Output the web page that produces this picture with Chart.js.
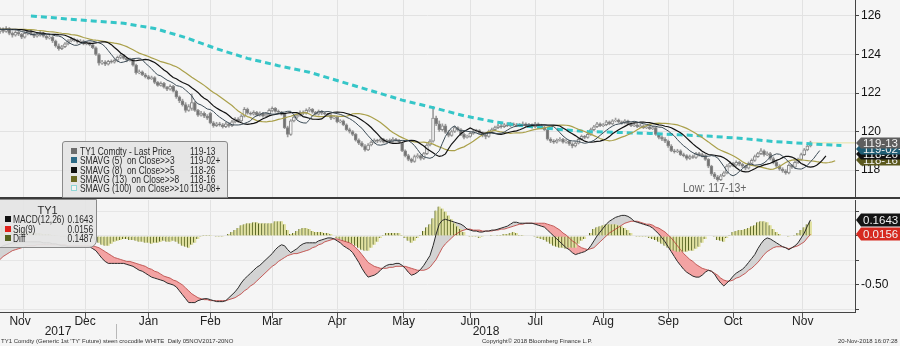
<!DOCTYPE html>
<html>
<head>
<meta charset="utf-8">
<script src="https://cdn.jsdelivr.net/npm/chart.js"></script>
<style>
  html, body { margin: 0; padding: 0; background: #f5f5f5; }
  #wrap { position: relative; width: 900px; height: 346px; overflow: hidden; background: #f5f5f5;
          font-family: "Liberation Sans Narrow", "Liberation Sans", Arial, sans-serif; color: #222; }
  canvas { position: absolute; left: 0; }
  #priceChart { top: 0; }
  #macdChart { top: 199px; }
  .sep { position: absolute; left: 0; top: 197px; width: 900px; height: 2px; background: #3a3a3a; }
  .legend { position: absolute; background: rgba(228,228,228,0.93); border: 1px solid #8a8a8a; color: #2a2a2a; }
  #priceLegend { left: 62px; top: 141px; width: 164px; height: 55px; border-radius: 3px 3px 0 0; }
  #macdLegend { left: -2px; top: 199px; width: 97px; height: 47px; border-radius: 0 0 8px 0; }
  .row { position: absolute; left: 0; width: 100%; height: 10px; line-height: 10px; font-size: 11.5px; white-space: nowrap; }
  .row i { position: absolute; top: 2px; width: 6px; height: 6px; }
  .name, .val { display: inline-block; transform: scaleX(0.73); transform-origin: 0 50%; }
  #priceLegend .row i { left: 8px; }
  #priceLegend .name { position: absolute; left: 17px; }
  #priceLegend .val { position: absolute; left: 127px; }
  #macdLegend .row i { left: 6px; }
  #macdLegend .name { position: absolute; left: 14px; }
  #macdLegend .val { position: absolute; right: 3px; transform-origin: 100% 50%; }
  .title { position: absolute; top: 4px; left: 0; width: 97px; text-align: center; font-size: 11px; line-height: 12px; }
  .low { position: absolute; left: 683px; top: 181px; font-size: 12px; color: #666; white-space: nowrap;
         transform: scaleX(0.88); transform-origin: 0 50%; }
  .year { position: absolute; top: 325px; width: 50px; text-align: center; font-size: 12px; line-height: 13px; }
  .ysep { position: absolute; left: 116px; top: 324px; width: 1px; height: 15px; background: #b8b8b8; }
  .foot { position: absolute; top: 337px; font-size: 6px; line-height: 8px; color: #333; white-space: nowrap;
          font-family: "Liberation Sans", Arial, sans-serif; }
</style>
</head>
<body>
<div id="wrap">
  <canvas id="priceChart" width="900" height="197"></canvas>
  <div class="sep"></div>
  <canvas id="macdChart" width="900" height="147"></canvas>

  <div class="legend" id="priceLegend">
    <div class="row" style="top:4px"><i style="background:#6d6d6d"></i><span class="name">TY1 Comdty - Last Price</span><span class="val">119-13</span></div>
    <div class="row" style="top:13.3px"><i style="background:#2c6a86"></i><span class="name">SMAVG (5)&nbsp; on Close&gt;&gt;3</span><span class="val">119-02+</span></div>
    <div class="row" style="top:22.6px"><i style="background:#111"></i><span class="name">SMAVG (8)&nbsp; on Close&gt;&gt;5</span><span class="val">118-26</span></div>
    <div class="row" style="top:31.9px"><i style="background:#6b6a24"></i><span class="name">SMAVG (13)&nbsp; on Close&gt;&gt;8</span><span class="val">118-16</span></div>
    <div class="row" style="top:41.2px"><i style="background:#f4f4f4;border:1px solid #8fd6d6;width:4px;height:4px"></i><span class="name">SMAVG (100)&nbsp; on Close&gt;&gt;10</span><span class="val">119-08+</span></div>
  </div>

  <div class="legend" id="macdLegend">
    <div class="title">TY1</div>
    <div class="row" style="top:14px"><i style="background:#111"></i><span class="name">MACD(12,26)</span><span class="val">0.1643</span></div>
    <div class="row" style="top:24px"><i style="background:#e0221c"></i><span class="name">Sig(9)</span><span class="val">0.0156</span></div>
    <div class="row" style="top:33px"><i style="background:#55621f"></i><span class="name">Diff</span><span class="val">0.1487</span></div>
  </div>

  <div class="low">Low: 117-13+</div>
  <div class="year" style="left:33px">2017</div>
  <div class="year" style="left:461px">2018</div>
  <div class="ysep"></div>
  <div class="foot" style="left:1px">TY1 Comdty (Generic 1st 'TY' Future) steen crocodile WHITE&nbsp; Daily 05NOV2017-20NO</div>
  <div class="foot" style="left:482px">Copyright© 2018 Bloomberg Finance L.P.</div>
  <div class="foot" style="left:838px">20-Nov-2018 16:07:28</div>
</div>

<script>
const FONT = '"Liberation Sans Narrow", "Liberation Sans", Arial, sans-serif';

// x axis: trading-day index, 0 = 06 Nov 2017
const months = ['Nov', 'Dec', 'Jan', 'Feb', 'Mar', 'Apr', 'May', 'Jun', 'Jul', 'Aug', 'Sep', 'Oct', 'Nov'];
const monthCenters = [6.5, 27.5, 48, 68, 88, 109, 130.5, 152, 173, 195, 216, 237, 259.5];
const monthEdges = [17.5, 37.5, 58.5, 77.5, 98.5, 119.5, 141.5, 162.5, 183.5, 206.5, 225.5, 248.5, 270.5];
const priceTicks = [118, 120, 122, 124, 126];
const macdTicks = [0.25, 0, -0.25, -0.5, -0.75];

// daily candles (decimal price)
const opens = [
  125.20, 125.30, 125.20, 125.35, 125.10, 125.00, 125.15, 125.05, 124.90, 125.10, 125.20, 125.05, 124.95, 125.00, 125.10, 124.95, 124.85, 124.90,
  124.70, 124.45, 124.30, 124.40, 124.55, 124.70, 124.80, 124.75, 124.65, 124.70, 124.55, 124.60, 124.50, 124.35, 124.00, 123.55, 123.60, 123.50, 123.65, 123.60,
  123.70, 123.85, 123.95, 123.80, 123.70, 123.75, 123.45, 123.05, 123.10, 122.95, 122.85, 122.75, 122.80, 122.55, 122.40, 122.50, 122.30, 122.20, 122.35, 122.10, 121.80,
  121.60, 121.40, 121.10, 121.20, 121.50, 121.10, 120.85, 120.95, 120.80, 120.95, 120.45, 120.30, 120.40, 120.35, 120.25, 120.40, 120.30, 120.50, 120.65,
  120.55, 120.80, 121.15, 120.95, 120.90, 121.00, 120.85, 120.95, 120.80, 120.90, 121.10, 121.20, 121.05, 121.00, 120.90, 120.20, 119.85, 120.55, 120.75, 120.85, 121.00,
  120.95, 121.10, 121.15, 121.00, 120.90, 121.05, 120.95, 120.90, 120.85, 120.70, 120.75, 120.50, 120.55, 120.35, 120.10, 120.00, 119.85, 119.55, 119.40, 119.25, 119.05,
  119.30, 119.45, 119.55, 119.50, 119.60, 119.45, 119.55, 119.50, 119.60, 119.55, 119.40, 119.00, 118.75, 118.55, 118.45, 118.70, 118.75, 118.60, 118.85, 119.30, 119.50, 120.70,
  120.40, 120.10, 120.30, 119.95, 119.80, 120.00, 120.20, 120.10, 119.85, 119.70, 119.75, 119.90, 120.00, 120.05, 119.90, 119.80, 119.75, 120.00, 120.10, 120.20, 120.30,
  120.25, 120.35, 120.30, 120.40, 120.35, 120.30, 120.35, 120.40, 120.30, 120.35, 120.25, 120.40, 120.30, 120.20, 120.10, 119.60, 119.50, 119.45, 119.55, 119.60, 119.45,
  119.50, 119.35, 119.25, 119.40, 119.60, 119.75, 119.70, 119.85, 120.10, 120.25, 120.40, 120.30, 120.35, 120.50, 120.40, 120.55, 120.60, 120.50, 120.45, 120.55, 120.40, 120.30, 120.35,
  120.25, 120.30, 120.20, 120.25, 120.15, 120.20, 119.85, 119.70, 119.60, 119.50, 119.25, 119.00, 118.95, 119.00, 118.80, 118.75, 118.60, 118.70, 118.65,
  118.85, 118.80, 118.75, 118.55, 118.20, 117.80, 117.65, 117.50, 117.70, 117.85, 118.20, 118.35, 118.25, 118.40, 118.30, 118.20, 118.10, 118.35, 118.50, 118.70, 118.85, 119.00, 118.80,
  118.85, 118.60, 118.40, 118.20, 118.05, 117.95, 117.85, 118.25, 118.15, 118.40, 118.55, 118.80, 119.05, 119.25
];
const highs = [
  125.40, 125.38, 125.45, 125.40, 125.18, 125.25, 125.22, 125.10, 125.18, 125.30, 125.25, 125.12, 125.08, 125.20, 125.15, 125.00, 125.00, 124.95,
  124.75, 124.55, 124.48, 124.62, 124.78, 124.88, 124.85, 124.80, 124.78, 124.75, 124.68, 124.65, 124.55, 124.40, 124.05, 123.70, 123.68, 123.70, 123.72, 123.78,
  123.92, 124.05, 124.00, 123.85, 123.82, 123.78, 123.50, 123.20, 123.15, 123.02, 122.92, 122.88, 122.85, 122.60, 122.58, 122.55, 122.35, 122.42, 122.40, 122.15, 121.85,
  121.68, 121.50, 121.40, 121.95, 121.55, 121.15, 121.05, 121.02, 120.88, 121.00, 120.52, 120.48, 120.48, 120.42, 120.48, 120.45, 120.58, 120.72, 120.72,
  120.88, 121.25, 121.22, 121.02, 121.08, 121.05, 121.02, 121.00, 120.98, 121.18, 121.28, 121.25, 121.12, 121.05, 120.95, 120.28, 120.62, 120.82, 120.92, 121.08, 121.08,
  121.18, 121.25, 121.20, 121.05, 121.12, 121.10, 121.00, 120.95, 120.90, 120.82, 120.80, 120.62, 120.60, 120.40, 120.18, 120.05, 119.90, 119.62, 119.48, 119.32, 119.38,
  119.52, 119.62, 119.60, 119.68, 119.65, 119.60, 119.62, 119.68, 119.65, 119.60, 119.45, 119.05, 118.82, 118.62, 118.78, 118.85, 118.80, 118.92, 119.38, 119.58, 121.30, 120.80,
  120.55, 120.40, 120.38, 120.05, 120.08, 120.28, 120.25, 120.15, 119.92, 119.82, 119.98, 120.08, 120.12, 120.10, 119.98, 119.88, 120.08, 120.18, 120.28, 120.38, 120.40,
  120.42, 120.45, 120.48, 120.45, 120.42, 120.42, 120.50, 120.45, 120.42, 120.40, 120.48, 120.45, 120.38, 120.28, 120.15, 119.68, 119.58, 119.62, 119.68, 119.65, 119.58,
  119.55, 119.42, 119.48, 119.68, 119.82, 119.80, 119.92, 120.18, 120.32, 120.48, 120.45, 120.42, 120.58, 120.55, 120.62, 120.70, 120.65, 120.55, 120.62, 120.60, 120.45, 120.42, 120.40,
  120.38, 120.35, 120.32, 120.30, 120.28, 120.25, 119.92, 119.78, 119.68, 119.55, 119.32, 119.08, 119.08, 119.05, 118.88, 118.80, 118.78, 118.78, 118.92,
  118.92, 118.88, 118.80, 118.60, 118.25, 117.88, 117.72, 117.78, 117.92, 118.28, 118.42, 118.40, 118.48, 118.45, 118.35, 118.25, 118.42, 118.58, 118.78, 118.92, 119.12, 119.05, 118.95,
  118.92, 118.68, 118.48, 118.28, 118.12, 118.02, 118.32, 118.30, 118.48, 118.62, 118.88, 119.12, 119.32, 119.50
];
const lows = [
  125.10, 125.12, 125.15, 125.02, 124.90, 124.95, 124.98, 124.82, 124.85, 125.02, 125.00, 124.88, 124.90, 124.95, 124.90, 124.78, 124.80, 124.62,
  124.38, 124.22, 124.25, 124.35, 124.50, 124.65, 124.68, 124.58, 124.60, 124.50, 124.50, 124.45, 124.30, 123.95, 123.45, 123.48, 123.42, 123.45, 123.55, 123.55,
  123.62, 123.78, 123.75, 123.62, 123.65, 123.40, 122.98, 123.00, 122.90, 122.78, 122.70, 122.70, 122.48, 122.35, 122.35, 122.25, 122.12, 122.15, 122.05, 121.72, 121.50,
  121.32, 121.00, 121.05, 121.10, 121.05, 120.78, 120.80, 120.72, 120.62, 120.40, 120.22, 120.25, 120.28, 120.18, 120.20, 120.22, 120.25, 120.45, 120.48,
  120.50, 120.75, 120.90, 120.85, 120.85, 120.80, 120.80, 120.75, 120.75, 120.85, 121.02, 121.00, 120.95, 120.85, 120.15, 119.72, 119.80, 120.50, 120.68, 120.80, 120.88,
  120.90, 121.02, 120.95, 120.85, 120.85, 120.88, 120.85, 120.78, 120.62, 120.65, 120.45, 120.45, 120.30, 120.05, 119.92, 119.78, 119.50, 119.32, 119.20, 118.98, 119.00,
  119.25, 119.40, 119.42, 119.45, 119.40, 119.40, 119.45, 119.45, 119.50, 119.40, 118.95, 118.68, 118.48, 118.38, 118.40, 118.62, 118.52, 118.55, 118.80, 119.25, 119.45, 120.30,
  120.00, 120.02, 119.90, 119.72, 119.75, 119.95, 120.02, 119.78, 119.62, 119.65, 119.70, 119.85, 119.95, 119.85, 119.72, 119.62, 119.70, 119.95, 120.05, 120.15, 120.18,
  120.20, 120.25, 120.25, 120.30, 120.25, 120.25, 120.30, 120.25, 120.25, 120.18, 120.20, 120.25, 120.15, 120.05, 119.55, 119.42, 119.38, 119.40, 119.50, 119.40, 119.40,
  119.28, 119.15, 119.20, 119.35, 119.55, 119.62, 119.65, 119.80, 120.05, 120.20, 120.25, 120.25, 120.30, 120.35, 120.35, 120.50, 120.45, 120.38, 120.40, 120.35, 120.25, 120.25, 120.20,
  120.20, 120.15, 120.15, 120.10, 120.10, 119.80, 119.62, 119.52, 119.42, 119.18, 118.95, 118.88, 118.90, 118.75, 118.68, 118.52, 118.55, 118.60, 118.60,
  118.72, 118.68, 118.50, 118.12, 117.72, 117.55, 117.42, 117.45, 117.65, 117.80, 118.15, 118.18, 118.20, 118.22, 118.12, 118.02, 118.05, 118.30, 118.45, 118.65, 118.80, 118.72, 118.75,
  118.52, 118.32, 118.12, 117.98, 117.88, 117.78, 117.80, 118.08, 118.10, 118.35, 118.50, 118.75, 119.00, 119.20
];
const closes = [
  125.30, 125.20, 125.35, 125.10, 125.00, 125.15, 125.05, 124.90, 125.10, 125.20, 125.05, 124.95, 125.00, 125.10, 124.95, 124.85, 124.90, 124.70,
  124.45, 124.30, 124.40, 124.55, 124.70, 124.80, 124.75, 124.65, 124.70, 124.55, 124.60, 124.50, 124.35, 124.00, 123.55, 123.60, 123.50, 123.65, 123.60, 123.70,
  123.85, 123.95, 123.80, 123.70, 123.75, 123.45, 123.05, 123.10, 122.95, 122.85, 122.75, 122.80, 122.55, 122.40, 122.50, 122.30, 122.20, 122.35, 122.10, 121.80, 121.60,
  121.40, 121.10, 121.30, 121.50, 121.10, 120.85, 120.95, 120.80, 120.70, 120.45, 120.30, 120.40, 120.35, 120.25, 120.40, 120.30, 120.50, 120.65, 120.55,
  120.80, 121.15, 120.95, 120.90, 121.00, 120.85, 120.95, 120.80, 120.90, 121.10, 121.20, 121.05, 121.00, 120.90, 120.20, 119.85, 120.55, 120.75, 120.85, 121.00, 120.95,
  121.10, 121.15, 121.00, 120.90, 121.05, 120.95, 120.90, 120.85, 120.70, 120.75, 120.50, 120.55, 120.35, 120.10, 120.00, 119.85, 119.55, 119.40, 119.25, 119.05, 119.30,
  119.45, 119.55, 119.50, 119.60, 119.45, 119.55, 119.50, 119.60, 119.55, 119.45, 119.00, 118.75, 118.55, 118.45, 118.70, 118.75, 118.60, 118.85, 119.30, 119.50, 120.70, 120.40,
  120.10, 120.30, 119.95, 119.80, 120.00, 120.20, 120.10, 119.85, 119.70, 119.75, 119.90, 120.00, 120.05, 119.90, 119.80, 119.75, 120.00, 120.10, 120.20, 120.30, 120.25,
  120.35, 120.30, 120.40, 120.35, 120.30, 120.35, 120.40, 120.30, 120.35, 120.25, 120.40, 120.30, 120.20, 120.10, 119.60, 119.50, 119.45, 119.55, 119.60, 119.45, 119.50,
  119.35, 119.25, 119.40, 119.60, 119.75, 119.70, 119.85, 120.10, 120.25, 120.40, 120.30, 120.35, 120.50, 120.40, 120.55, 120.60, 120.50, 120.45, 120.55, 120.40, 120.30, 120.35, 120.25,
  120.30, 120.20, 120.25, 120.15, 120.20, 119.85, 119.70, 119.60, 119.50, 119.25, 119.00, 118.95, 119.00, 118.80, 118.75, 118.60, 118.70, 118.65, 118.85,
  118.80, 118.75, 118.55, 118.20, 117.80, 117.65, 117.50, 117.70, 117.85, 118.20, 118.35, 118.25, 118.40, 118.30, 118.20, 118.10, 118.35, 118.50, 118.70, 118.85, 119.00, 118.80, 118.85,
  118.60, 118.40, 118.20, 118.05, 117.95, 117.85, 118.25, 118.15, 118.40, 118.55, 118.80, 119.05, 119.25, 119.41
];

// 100-day average (shifted 10 days)
const sma100Days = [10, 20, 30, 40, 50, 60, 70, 80, 90, 100, 110, 120, 130, 140, 150, 160, 170, 180, 190, 200, 210, 220, 230, 240, 250, 260, 272];
const sma100 = [126.00, 125.87, 125.74, 125.62, 125.35, 124.88, 124.30, 123.80, 123.42, 123.08, 122.60, 122.12, 121.63, 121.24, 120.82,
  120.50, 120.28, 120.12, 120.00, 119.95, 119.90, 119.83, 119.75, 119.64, 119.48, 119.38, 119.27];

// MACD(12,26) and signal(9), daily
const macd = [
  -0.12, -0.10, -0.09, -0.08, -0.07, -0.07, -0.06, -0.06, -0.06, -0.06,
  -0.06, -0.06, -0.06, -0.06, -0.07, -0.07, -0.07, -0.08, -0.08, -0.09,
  -0.10, -0.10, -0.11, -0.11, -0.11, -0.11, -0.11, -0.11, -0.11, -0.11,
  -0.13, -0.15, -0.19, -0.23, -0.26, -0.28, -0.28, -0.28, -0.28, -0.28,
  -0.28, -0.29, -0.30, -0.31, -0.33, -0.35, -0.36, -0.38, -0.40, -0.42,
  -0.43, -0.44, -0.45, -0.46, -0.48, -0.49, -0.50, -0.52, -0.56, -0.60,
  -0.64, -0.68, -0.68, -0.68, -0.66, -0.65, -0.64, -0.64, -0.65, -0.66,
  -0.67, -0.67, -0.67, -0.66, -0.63, -0.60, -0.57, -0.53, -0.48, -0.44,
  -0.41, -0.38, -0.35, -0.32, -0.30, -0.27, -0.24, -0.21, -0.18, -0.14,
  -0.11, -0.09, -0.10, -0.14, -0.17, -0.15, -0.13, -0.10, -0.08, -0.07,
  -0.07, -0.07, -0.07, -0.05, -0.04, -0.03, -0.02, -0.02, -0.03, -0.05,
  -0.07, -0.10, -0.12, -0.14, -0.17, -0.22, -0.27, -0.33, -0.38, -0.42,
  -0.41, -0.40, -0.38, -0.35, -0.32, -0.30, -0.29, -0.29, -0.28, -0.28,
  -0.30, -0.33, -0.37, -0.40, -0.39, -0.37, -0.34, -0.30, -0.25, -0.20,
  -0.10, 0.02, 0.12, 0.16, 0.17, 0.16, 0.15, 0.14, 0.13, 0.12,
  0.10, 0.07, 0.06, 0.05, 0.05, 0.04, 0.04, 0.05, 0.05, 0.06,
  0.06, 0.07, 0.08, 0.09, 0.10, 0.12, 0.14, 0.14, 0.13, 0.13,
  0.13, 0.13, 0.13, 0.12, 0.11, 0.10, 0.09, 0.06, 0.03, 0.00,
  -0.03, -0.06, -0.09, -0.12, -0.14, -0.17, -0.19, -0.18, -0.17, -0.16,
  -0.14, -0.10, -0.05, 0.00, 0.04, 0.08, 0.12, 0.15, 0.17, 0.19,
  0.20, 0.21, 0.21, 0.20, 0.18, 0.15, 0.14, 0.13, 0.12, 0.11,
  0.10, 0.08, 0.05, 0.02, -0.02, -0.06, -0.11, -0.16, -0.21, -0.26,
  -0.30, -0.34, -0.37, -0.39, -0.41, -0.42, -0.42, -0.40, -0.37, -0.35,
  -0.36, -0.39, -0.44, -0.48, -0.51, -0.48, -0.45, -0.41, -0.38, -0.36,
  -0.34, -0.31, -0.27, -0.23, -0.19, -0.13, -0.08, -0.04, -0.02, -0.03,
  -0.05, -0.07, -0.09, -0.11, -0.12, -0.14, -0.12, -0.10, -0.07, -0.02,
  0.03, 0.10, 0.1643
];
const signal = [
  -0.24, -0.21, -0.19, -0.17, -0.15, -0.14, -0.13, -0.12, -0.11, -0.10,
  -0.10, -0.10, -0.09, -0.09, -0.09, -0.09, -0.09, -0.09, -0.09, -0.09,
  -0.09, -0.09, -0.10, -0.10, -0.10, -0.10, -0.10, -0.10, -0.10, -0.10,
  -0.10, -0.11, -0.12, -0.14, -0.16, -0.18, -0.20, -0.22, -0.23, -0.24,
  -0.25, -0.26, -0.26, -0.27, -0.28, -0.29, -0.30, -0.31, -0.33, -0.34,
  -0.36, -0.37, -0.39, -0.41, -0.42, -0.43, -0.45, -0.46, -0.48, -0.50,
  -0.53, -0.56, -0.59, -0.61, -0.63, -0.64, -0.65, -0.65, -0.66, -0.66,
  -0.66, -0.66, -0.66, -0.66, -0.65, -0.64, -0.63, -0.61, -0.59, -0.56,
  -0.54, -0.51, -0.49, -0.46, -0.43, -0.40, -0.37, -0.34, -0.31, -0.29,
  -0.26, -0.24, -0.22, -0.20, -0.19, -0.18, -0.18, -0.17, -0.16, -0.15,
  -0.14, -0.12, -0.11, -0.09, -0.08, -0.06, -0.05, -0.04, -0.03, -0.03,
  -0.04, -0.05, -0.06, -0.07, -0.09, -0.12, -0.15, -0.19, -0.23, -0.27,
  -0.29, -0.31, -0.32, -0.33, -0.33, -0.33, -0.32, -0.32, -0.31, -0.31,
  -0.31, -0.31, -0.32, -0.33, -0.34, -0.35, -0.35, -0.35, -0.34, -0.32,
  -0.28, -0.24, -0.18, -0.12, -0.08, -0.05, -0.02, 0.01, 0.03, 0.05,
  0.06, 0.07, 0.07, 0.06, 0.06, 0.06, 0.05, 0.05, 0.05, 0.05,
  0.06, 0.06, 0.07, 0.07, 0.08, 0.09, 0.10, 0.11, 0.12, 0.12,
  0.13, 0.13, 0.13, 0.13, 0.13, 0.13, 0.13, 0.12, 0.11, 0.10,
  0.08, 0.06, 0.03, 0.01, -0.02, -0.05, -0.07, -0.10, -0.12, -0.13,
  -0.14, -0.13, -0.12, -0.09, -0.06, -0.03, 0.00, 0.03, 0.05, 0.07,
  0.09, 0.11, 0.13, 0.14, 0.15, 0.15, 0.15, 0.14, 0.13, 0.12,
  0.12, 0.11, 0.09, 0.08, 0.06, 0.04, 0.01, -0.02, -0.06, -0.10,
  -0.14, -0.18, -0.21, -0.24, -0.26, -0.29, -0.31, -0.33, -0.34, -0.35,
  -0.36, -0.38, -0.40, -0.43, -0.45, -0.46, -0.46, -0.45, -0.43, -0.42,
  -0.40, -0.38, -0.35, -0.33, -0.30, -0.27, -0.23, -0.19, -0.16, -0.14,
  -0.12, -0.11, -0.11, -0.11, -0.12, -0.13, -0.12, -0.11, -0.10, -0.08,
  -0.06, -0.02, 0.0156
];

// last-value tags on the right axis
const lastLabels = ['119-13', '119-02+', '118-26', '118-16'];
const lastValues = [119.41, 119.08, 118.81, 118.50];
const lastColors = ['#5e5e5e', '#1f5d74', '#121212', '#5b591d'];
const macdLabels = ['0.1643', '0.0156'];
const macdLast = [0.1643, 0.0156];
const macdColors = ['#151515', '#d62a20'];

const xMax = 276.4;

function meanBack(n, end) {
  let s = 0;
  for (let k = end - n + 1; k <= end; k++) s += closes[Math.min(Math.max(k, 0), closes.length - 1)];
  return s / n;
}
function shiftedSma(n, shift) {
  const pts = [];
  for (let j = 0; j < closes.length + shift; j++) pts.push({ x: j, y: meanBack(n, j - shift) });
  return pts;
}

function tagPlugin(id, values, labels, colors, h) {
  return {
    id: id,
    afterDraw(chart) {
      const ctx = chart.ctx, ys = chart.scales.y, x0 = chart.chartArea.right;
      ctx.save();
      ctx.font = '11.5px ' + FONT;
      ctx.textBaseline = 'middle';
      for (let k = values.length - 1; k >= 0; k--) {
        const py = Math.round(ys.getPixelForValue(values[k]));
        ctx.fillStyle = colors[k];
        ctx.beginPath();
        ctx.moveTo(x0 + 1, py);
        ctx.lineTo(x0 + 6, py - h / 2);
        ctx.lineTo(chart.width, py - h / 2);
        ctx.lineTo(chart.width, py + h / 2);
        ctx.lineTo(x0 + 6, py + h / 2);
        ctx.closePath();
        ctx.fill();
        ctx.fillStyle = '#f2f2f2';
        ctx.fillText(labels[k], x0 + 8, py + 0.5);
      }
      ctx.restore();
    }
  };
}

const noPad = s => { s.paddingTop = 0; s.paddingBottom = 0; s.paddingLeft = 0; s.paddingRight = 0; };

Chart.defaults.font.family = FONT;

// ===== price panel =====
new Chart(document.getElementById('priceChart'), {
  type: 'bar',
  data: {
    datasets: [
      {
        label: 'wick', type: 'bar', order: 6, grouped: false, barThickness: 1,
        data: closes.map((c, i) => ({ x: i, y: [lows[i], highs[i]] })),
        backgroundColor: '#9c9c9c'
      },
      {
        label: 'TY1 Comdty', type: 'bar', order: 5, grouped: false, barThickness: 3,
        data: closes.map((c, i) => ({ x: i, y: [opens[i], c] })),
        backgroundColor: closes.map((c, i) => c >= opens[i] ? '#f4f4f4' : '#727272'),
        borderColor: '#8a8a8a', borderWidth: 1, borderSkipped: false
      },
      {
        label: 'SMAVG (100)', type: 'line', order: 4,
        data: sma100Days.map((d, k) => ({ x: d, y: sma100[k] })),
        borderColor: '#35c6c8', borderWidth: 3, borderDash: [6, 4], pointRadius: 0
      },
      {
        label: 'last', type: 'line', order: 4,
        data: [{ x: closes.length - 1, y: closes[closes.length - 1] }, { x: xMax, y: closes[closes.length - 1] }],
        borderColor: '#e6e2a4', borderWidth: 1, pointRadius: 0
      },
      {
        label: 'SMAVG (13)', type: 'line', order: 2, data: shiftedSma(13, 8),
        borderColor: '#aaa04a', borderWidth: 1.2, pointRadius: 0
      },
      {
        label: 'SMAVG (8)', type: 'line', order: 1, data: shiftedSma(8, 5),
        borderColor: '#111111', borderWidth: 1.2, pointRadius: 0
      },
      {
        label: 'SMAVG (5)', type: 'line', order: 0, data: shiftedSma(5, 3),
        borderColor: '#3a4a55', borderWidth: 1, pointRadius: 0
      }
    ]
  },
  options: {
    responsive: false, animation: false, events: [],
    layout: { padding: 0 },
    plugins: { legend: { display: false }, tooltip: { enabled: false } },
    scales: {
      x: {
        type: 'linear', min: 0, max: xMax, offset: false,
        afterBuildTicks: s => { s.ticks = monthEdges.map(v => ({ value: v })); },
        grid: { color: '#e2e2e2', drawTicks: false },
        border: { display: false },
        ticks: { display: false },
        afterFit: s => { s.height = 0; noPad(s); }
      },
      y: {
        position: 'right', min: 116.6, max: 126.83,
        afterBuildTicks: s => { s.ticks = priceTicks.map(v => ({ value: v })); },
        grid: { color: '#e2e2e2', tickLength: 4, tickColor: '#444' },
        border: { display: true, color: '#444' },
        ticks: { color: '#111', font: { size: 12 }, padding: 2 },
        afterFit: s => { s.width = 45; noPad(s); }
      }
    }
  },
  plugins: [tagPlugin('priceTags', lastValues, lastLabels, lastColors, 11)]
});

// ===== MACD panel =====
new Chart(document.getElementById('macdChart'), {
  type: 'bar',
  data: {
    datasets: [
      {
        label: 'Diff', type: 'bar', order: 3, grouped: false, barThickness: 3,
        data: macd.map((m, i) => ({ x: i, y: m - signal[i] })),
        backgroundColor: '#e2e2a2', borderColor: '#55621f',
        borderWidth: { left: 1, right: 0, top: 0, bottom: 0 }, borderSkipped: false
      },
      {
        label: 'MACD(12,26)', type: 'line', order: 1,
        data: macd.map((m, i) => ({ x: i, y: m })),
        borderColor: '#2a2a2a', borderWidth: 1, pointRadius: 0,
        fill: { target: 2, above: 'rgba(205,205,205,0.85)', below: 'rgba(242,148,148,0.85)' }
      },
      {
        label: 'Sig(9)', type: 'line', order: 2,
        data: signal.map((s, i) => ({ x: i, y: s })),
        borderColor: '#b83a36', borderWidth: 0.8, pointRadius: 0
      }
    ]
  },
  options: {
    responsive: false, animation: false, events: [],
    layout: { padding: { top: 1, left: 0, right: 0, bottom: 0 } },
    plugins: { legend: { display: false }, tooltip: { enabled: false }, filler: { drawTime: 'beforeDatasetsDraw' } },
    scales: {
      x: {
        type: 'linear', min: 0, max: xMax, offset: false, weight: 1,
        afterBuildTicks: s => { s.ticks = monthCenters.map(v => ({ value: v })); },
        grid: { display: false, drawTicks: false },
        border: { display: false },
        ticks: { autoSkip: false, maxRotation: 0, padding: 2, color: '#222', font: { size: 12 },
                 callback: (v, i) => months[i] },
        afterFit: s => { s.height = 34; noPad(s); }
      },
      xEdges: {
        type: 'linear', axis: 'x', position: 'bottom', min: 0, max: xMax, offset: false, weight: 0,
        afterBuildTicks: s => { s.ticks = monthEdges.map(v => ({ value: v })); },
        grid: { color: '#e2e2e2', tickLength: 6, tickColor: '#555' },
        border: { display: true, color: '#444' },
        ticks: { display: false },
        afterFit: s => { s.height = 0; noPad(s); }
      },
      y: {
        position: 'right', min: -0.776, max: 0.367,
        afterBuildTicks: s => { s.ticks = macdTicks.map(v => ({ value: v })); },
        grid: { color: '#e6e6e6', tickLength: 4, tickColor: '#444' },
        border: { display: true, color: '#444' },
        ticks: { color: '#111', font: { size: 12 }, padding: 2, callback: v => v === -0.5 ? '-0.50' : '' },
        afterFit: s => { s.width = 45; noPad(s); }
      }
    }
  },
  plugins: [tagPlugin('macdTags', macdLast, macdLabels, macdColors, 13)]
});
</script>
</body>
</html>
